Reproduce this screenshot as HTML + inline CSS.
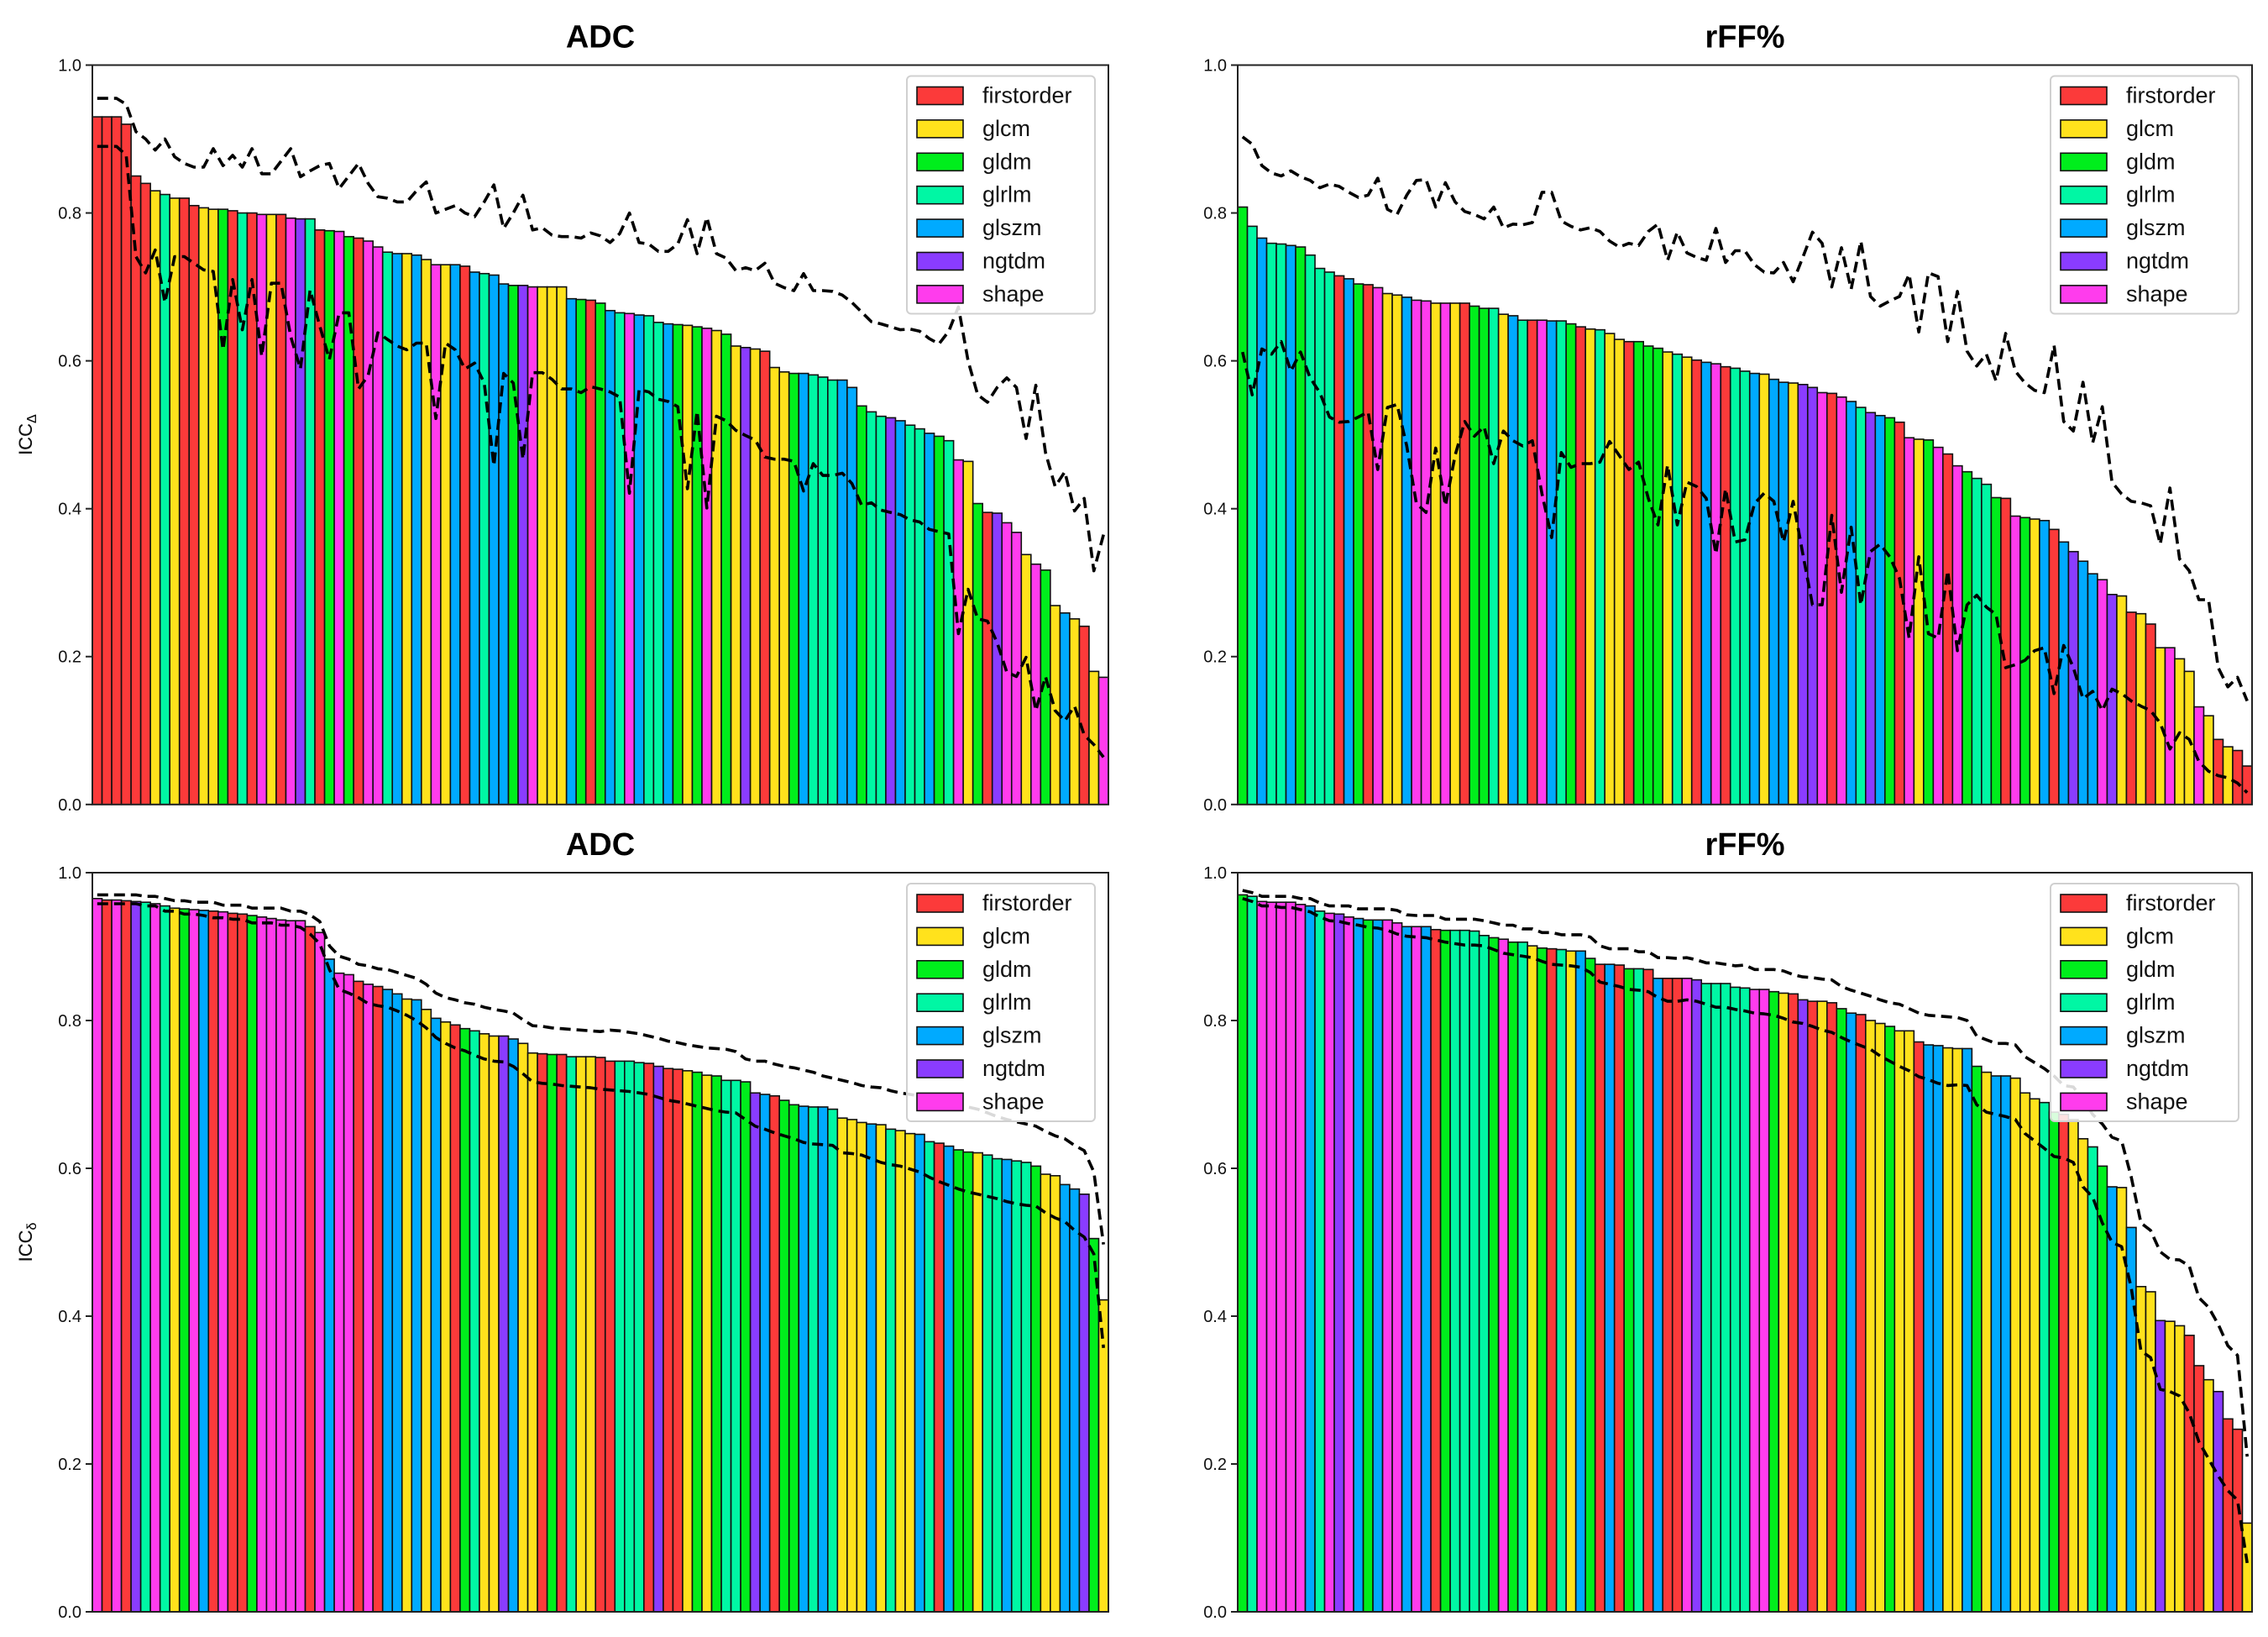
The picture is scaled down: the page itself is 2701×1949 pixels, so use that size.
<!DOCTYPE html>
<html><head><meta charset="utf-8"><style>
html,body{margin:0;padding:0;background:#fff;}
svg{display:block;font-family:"Liberation Sans","DejaVu Sans",sans-serif;}
</style></head><body>
<svg id="fig" width="2701" height="1949" viewBox="0 0 2701 1949" xmlns="http://www.w3.org/2000/svg"></svg>
<script>
// ---- data ----
const categories = ["firstorder","glcm","gldm","glrlm","glszm","ngtdm","shape"];
const catCodes = "RYGTBVP";
const catColors = ["#fc3a3a","#ffe21c","#00ee1c","#00f7a4","#00aaff","#8a3cff","#ff3ced"];
const yTicks = [0.0,0.2,0.4,0.6,0.8,1.0];
const yTickLabels = ["0.0","0.2","0.4","0.6","0.8","1.0"];

const catsA = "RRRRRRYTYRRYYGRTRPYRPVTRGPGRPPTBYBYPYBRBTBBGVPYYYBGRG" + "BTPBTTBGYGPYGYVYRYYGBTTTBBGTTVBTTBGTPYGRVPPYPGYBYRYP";
const valsA = [.93,.93,.93,.92,.85,.84,.83,.825,.82,.82,.81,.807,.805,.805,.803,.80,.80,.798,.798,.798,.793,.792,.792,.777,.776,.775,.768,.766,.762,.754,.747,.745,.745,.743,.737,.730,.730,.730,.728,.720,.718,.716,.704,.702,.702,.700,.700,.700,.700,.684,.683,.682,.678,.668,.665,.664,.662,.661,.652,.650,.649,.648,.646,.644,.641,.636,.620,.618,.616,.613,.591,.585,.583,.583,.581,.578,.574,.574,.564,.539,.531,.525,.523,.519,.513,.508,.502,.498,.492,.466,.464,.407,.395,.394,.381,.368,.338,.325,.317,.269,.259,.251,.241,.180,.172];
const upA = [.955,.955,.955,.947,.91,.90,.885,.90,.876,.867,.862,.862,.887,.864,.878,.862,.887,.853,.853,.87,.887,.849,.857,.864,.867,.833,.85,.867,.84,.822,.82,.815,.815,.83,.842,.80,.805,.81,.80,.795,.815,.838,.779,.80,.824,.777,.78,.77,.768,.768,.766,.773,.769,.760,.772,.800,.760,.758,.748,.748,.758,.791,.745,.794,.745,.739,.722,.726,.722,.732,.705,.699,.695,.718,.695,.695,.694,.689,.679,.666,.653,.650,.646,.642,.643,.640,.630,.623,.640,.673,.600,.554,.544,.564,.577,.564,.495,.567,.476,.430,.450,.397,.414,.316,.365];
const loA = [.89,.89,.89,.878,.741,.719,.75,.679,.741,.741,.732,.723,.721,.615,.71,.642,.71,.606,.705,.705,.633,.589,.696,.647,.602,.665,.665,.562,.58,.638,.629,.62,.615,.624,.624,.522,.624,.615,.589,.597,.57,.458,.583,.57,.467,.584,.584,.575,.562,.562,.557,.565,.562,.558,.551,.421,.561,.558,.548,.545,.538,.427,.532,.401,.525,.519,.506,.499,.493,.470,.467,.467,.464,.424,.461,.445,.445,.448,.434,.405,.408,.398,.395,.392,.385,.382,.372,.369,.366,.231,.291,.251,.248,.219,.179,.173,.199,.127,.173,.127,.113,.133,.094,.081,.064];

const catsB = "GTBTTBGTTTRBGRPYYBPPYPYRGGTYBTRPBTGRYTYYRGGGYTYRBPRTT" + "BYBBYVVPRPBTVBGRPYGPRPGTTGRPGYBRBVBBPVYRYRYPYYPYRYRR";
const valsB = [.808,.782,.766,.759,.758,.756,.754,.743,.725,.720,.715,.711,.704,.703,.699,.691,.689,.686,.682,.681,.678,.678,.678,.678,.674,.671,.671,.663,.661,.655,.655,.655,.654,.654,.650,.646,.643,.642,.637,.629,.626,.626,.620,.617,.612,.609,.605,.601,.598,.596,.592,.590,.586,.583,.582,.575,.571,.570,.568,.564,.557,.556,.551,.545,.537,.530,.526,.523,.517,.496,.494,.493,.483,.474,.458,.450,.441,.433,.415,.414,.390,.388,.386,.384,.372,.355,.342,.329,.312,.304,.284,.282,.260,.258,.244,.212,.212,.197,.180,.132,.120,.088,.078,.073,.052];
const upB = [.903,.893,.864,.854,.850,.857,.849,.844,.834,.839,.836,.828,.821,.824,.847,.805,.798,.824,.844,.845,.808,.841,.815,.802,.798,.792,.808,.780,.785,.784,.787,.828,.828,.789,.782,.777,.780,.775,.762,.754,.759,.756,.775,.785,.736,.774,.746,.740,.736,.779,.733,.749,.749,.730,.720,.719,.733,.707,.740,.774,.759,.700,.753,.697,.762,.687,.674,.681,.687,.717,.639,.719,.714,.626,.694,.613,.593,.609,.573,.637,.586,.570,.560,.557,.621,.518,.505,.571,.489,.538,.436,.420,.410,.408,.404,.352,.428,.332,.316,.277,.277,.185,.159,.172,.140];
const loB = [.612,.554,.616,.609,.626,.586,.612,.577,.557,.524,.517,.518,.524,.531,.453,.537,.541,.485,.407,.395,.482,.404,.472,.518,.498,.511,.461,.505,.492,.485,.492,.420,.361,.476,.456,.461,.461,.463,.491,.472,.453,.463,.414,.378,.459,.378,.436,.430,.414,.339,.427,.355,.358,.407,.421,.410,.355,.410,.339,.270,.270,.391,.287,.375,.270,.342,.352,.335,.306,.225,.335,.231,.225,.316,.208,.270,.283,.267,.257,.185,.189,.195,.208,.212,.150,.215,.185,.143,.153,.127,.156,.150,.140,.133,.127,.110,.075,.097,.088,.058,.045,.039,.036,.029,.016];

const catsC = "PRPRVTPTYGPBRPRRGPPPPPRPBPPRPRBBYBYBYRGTYYVBYYRGRTYYR" + "RTTTRVRRYGYGTTGVBRGGBTBTYYYBYTYYBTRBGGYTTBTTGYYBBVGY";
const valsC = [.965,.963,.963,.962,.961,.960,.958,.955,.952,.951,.950,.949,.948,.947,.945,.944,.942,.940,.938,.936,.935,.935,.927,.919,.883,.864,.862,.853,.849,.846,.842,.836,.829,.828,.815,.803,.798,.794,.789,.786,.782,.779,.779,.775,.769,.756,.755,.754,.754,.751,.751,.751,.750,.745,.745,.745,.743,.742,.738,.735,.734,.732,.730,.726,.725,.719,.719,.717,.702,.700,.698,.692,.686,.684,.683,.683,.680,.668,.666,.662,.660,.659,.653,.651,.647,.646,.636,.634,.630,.625,.622,.621,.618,.613,.612,.610,.608,.603,.592,.590,.578,.572,.565,.505,.422];
const upC = [.970,.970,.970,.970,.970,.968,.968,.965,.962,.962,.960,.960,.960,.956,.956,.956,.952,.952,.952,.952,.948,.948,.943,.934,.901,.887,.883,.876,.874,.870,.869,.865,.861,.857,.849,.837,.831,.828,.824,.822,.818,.815,.813,.810,.801,.793,.792,.790,.789,.788,.787,.786,.785,.787,.786,.784,.782,.779,.776,.772,.770,.767,.765,.763,.762,.761,.758,.748,.745,.745,.741,.738,.736,.733,.730,.725,.722,.719,.716,.712,.710,.709,.705,.702,.700,.698,.695,.693,.690,.686,.683,.680,.675,.670,.666,.663,.660,.657,.650,.644,.640,.631,.624,.595,.497];
const loC = [.958,.958,.958,.958,.958,.955,.955,.948,.948,.944,.944,.942,.939,.939,.937,.937,.932,.932,.932,.929,.929,.926,.917,.904,.869,.842,.837,.831,.823,.820,.818,.813,.807,.800,.790,.777,.769,.763,.759,.753,.748,.745,.744,.738,.728,.717,.715,.714,.712,.711,.710,.709,.707,.706,.705,.704,.702,.700,.696,.692,.690,.687,.684,.681,.678,.676,.675,.666,.657,.653,.648,.644,.640,.635,.633,.632,.631,.621,.620,.618,.613,.608,.605,.603,.599,.595,.588,.582,.577,.572,.568,.565,.562,.559,.555,.552,.550,.549,.540,.533,.528,.516,.507,.484,.357];

const catsD = "GTPPPPPBTPVPBGBPPBPBRGTTTTGPGTYGRTYBGRBRGTRBRRPVTTTT" + "TPPGYRVRYRGBRYYGYYRBBYYBGYBBYYYTGRYYTGBYBYYVYYRRYVRRY";
const valsD = [.970,.968,.961,.960,.960,.960,.957,.955,.948,.945,.944,.940,.938,.936,.936,.936,.932,.927,.927,.927,.923,.922,.922,.922,.921,.915,.912,.910,.906,.906,.901,.898,.897,.896,.894,.894,.884,.876,.876,.875,.870,.870,.869,.857,.857,.857,.857,.855,.850,.850,.850,.845,.844,.842,.842,.839,.837,.836,.828,.826,.826,.824,.816,.810,.808,.800,.796,.792,.786,.786,.771,.767,.766,.763,.762,.762,.738,.730,.725,.725,.722,.702,.694,.689,.676,.673,.666,.640,.629,.603,.575,.574,.520,.440,.433,.394,.393,.387,.374,.333,.314,.298,.261,.247,.120];
const upD = [.976,.973,.968,.968,.968,.968,.965,.965,.959,.955,.955,.955,.951,.951,.951,.951,.949,.943,.942,.942,.942,.937,.937,.937,.937,.935,.932,.929,.929,.924,.924,.919,.919,.916,.916,.916,.913,.901,.897,.897,.897,.893,.893,.885,.885,.884,.885,.882,.878,.878,.876,.874,.875,.869,.869,.869,.867,.862,.859,.858,.856,.855,.846,.841,.837,.833,.828,.824,.822,.816,.810,.807,.806,.805,.804,.800,.779,.774,.769,.769,.767,.751,.743,.735,.725,.712,.710,.693,.673,.660,.642,.637,.588,.526,.516,.487,.477,.476,.468,.425,.412,.389,.360,.347,.210];
const loD = [.965,.961,.955,.955,.953,.953,.950,.947,.940,.935,.934,.931,.929,.926,.925,.922,.917,.914,.913,.912,.909,.906,.904,.902,.902,.901,.896,.891,.889,.887,.885,.880,.876,.875,.874,.872,.865,.852,.849,.846,.842,.841,.839,.831,.826,.826,.828,.826,.822,.818,.818,.815,.813,.810,.809,.807,.803,.798,.796,.792,.787,.784,.777,.771,.766,.761,.752,.745,.738,.732,.724,.720,.715,.712,.713,.712,.686,.676,.673,.670,.666,.647,.637,.627,.616,.614,.608,.575,.561,.526,.500,.494,.438,.353,.344,.301,.298,.292,.269,.230,.207,.184,.164,.151,.066];

const panels = [
  {id:"adc-delta", title:"ADC", sub:"Δ", x0:110, x1:1320, yTop:77.5, yBot:957.8, cats:catsA, vals:valsA, up:upA, lo:loA},
  {id:"rff-delta", title:"rFF%", sub:"Δ", x0:1474, x1:2682, yTop:77.5, yBot:957.8, cats:catsB, vals:valsB, up:upB, lo:loB},
  {id:"adc-small-delta", title:"ADC", sub:"δ", x0:110, x1:1320, yTop:1039, yBot:1919, cats:catsC, vals:valsC, up:upC, lo:loC},
  {id:"rff-small-delta", title:"rFF%", sub:"δ", x0:1474, x1:2682, yTop:1039, yBot:1919, cats:catsD, vals:valsD, up:upD, lo:loD}
];

const NS = "http://www.w3.org/2000/svg";
const svg = document.getElementById("fig");
function mk(tag, attrs, parent){
  const e = document.createElementNS(NS, tag);
  for (const k in attrs) e.setAttribute(k, attrs[k]);
  (parent||svg).appendChild(e);
  return e;
}

panels.forEach(p => {
  const g = mk("g", {});
  
  
  const n = p.vals.length;
  const bw = (p.x1 - p.x0) / n;
  const yScale = v => p.yBot - v * (p.yBot - p.yTop);
  const xScale = i => p.x0 + i * bw;

  // bars
  p.vals.forEach((v, i) => {
    const ci = catCodes.indexOf(p.cats[i]);
    const r = mk("rect", {x: xScale(i), y: yScale(v), width: bw, height: p.yBot - yScale(v),
      fill: catColors[ci], stroke: "#111", "stroke-width": 1.6}, g);
    
    
  });

  // dashed lines
  [["upper-ci-line", p.up], ["lower-ci-line", p.lo]].forEach(([nm, arr]) => {
    const pts = arr.map((v, i) => (xScale(i) + bw/2).toFixed(1) + "," + yScale(v).toFixed(1)).join(" ");
    const pl = mk("polyline", {points: pts, fill: "none", stroke: "#000", "stroke-width": 3.6,
      "stroke-dasharray": "13,7", "stroke-linejoin": "round"}, g);
    
    
  });

  // frame
  const fr = mk("rect", {x: p.x0, y: p.yTop, width: p.x1 - p.x0, height: p.yBot - p.yTop,
    fill: "none", stroke: "#222", "stroke-width": 2}, g);
  
  

  // y ticks
  yTicks.forEach((t, i) => {
    const y = yScale(t);
    const tk = mk("line", {x1: p.x0 - 8, x2: p.x0, y1: y, y2: y, stroke: "#222", "stroke-width": 2}, g);
    
    
    const tl = mk("text", {x: p.x0 - 13, y: y + 7, "text-anchor": "end", "font-size": 20, fill: "#111"}, g);
    tl.textContent = yTickLabels[i];
    
    
  });

  // title
  const tt = mk("text", {x: (p.x0 + p.x1)/2, y: p.yTop - 21, "text-anchor": "middle", "font-size": 38, "font-weight": "bold", fill: "#000"}, g);
  tt.textContent = p.title;
  
  

  // y label
  const cy = (p.yTop + p.yBot)/2;
  const yl = mk("text", {x: 0, y: 0, "text-anchor": "middle", "font-size": 22, fill: "#111",
    transform: "translate(38," + cy + ") rotate(-90)"}, g);
  
  
  const t1 = mk("tspan", {}, yl); t1.textContent = "ICC";
  const t2 = mk("tspan", {"font-size": 16, dy: 5}, yl); t2.textContent = p.sub;

  // legend
  const lx = p.x1 - 240, ly = p.yTop + 13;
  const lg = mk("g", {}, g);
  
  
  mk("rect", {x: lx, y: ly, width: 224, height: 283, rx: 5, fill: "#fff", "fill-opacity": 0.85, stroke: "#d0d0d0", "stroke-width": 2}, lg);
  categories.forEach((c, i) => {
    const ey = ly + 23 + i * 39.4;
    const sw = mk("rect", {x: lx + 12, y: ey - 10, width: 55, height: 21, fill: catColors[i], stroke: "#111", "stroke-width": 1.6}, lg);
    
    
    const lt = mk("text", {x: lx + 90, y: ey + 9, "font-size": 27, fill: "#111"}, lg);
    lt.textContent = c;
    
    
  });
});
</script>
</body></html>
